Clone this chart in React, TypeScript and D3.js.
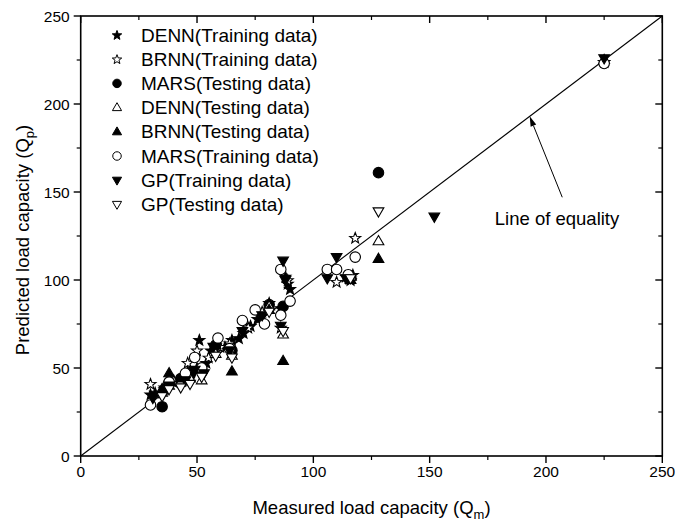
import React from "react";
import * as d3 from "d3";

// ---- data (measured, predicted) ----
const dennTraining: [number, number][] = [
  [30, 35], [32, 36], [36, 38], [40, 42], [44, 45], [46, 48], [50, 50], [51, 66], [54, 53],
  [56, 60], [58, 63], [62, 62], [65, 66], [68, 67], [70, 70], [73, 74], [76, 78], [78, 80],
  [81, 87], [86, 84], [88, 102], [89, 98], [90, 95], [114, 102], [116, 100], [117, 103], [225, 224],
];
const brnnTraining: [number, number][] = [
  [30, 41], [36, 39], [40, 43], [46, 53], [50, 60], [55, 56], [60, 62], [64, 64], [72, 73],
  [78, 82], [86, 73], [89, 100], [110, 99], [116, 101], [118, 124], [225, 224],
];
const marsTesting: [number, number][] = [
  [35, 28], [38, 42], [43, 44], [47, 46], [52, 50], [58, 63], [65, 60], [81, 86], [87, 85],
  [116, 101], [128, 161],
];
const dennTesting: [number, number][] = [
  [35, 36], [38, 40], [43, 42], [47, 44], [52, 43], [58, 58], [65, 57], [81, 85], [87, 69],
  [116, 102], [128, 122], [225, 225],
];
const brnnTesting: [number, number][] = [
  [35, 38], [38, 47], [43, 44], [47, 48], [52, 49], [58, 63], [65, 48], [81, 83], [87, 54],
  [116, 100], [128, 112],
];
const marsTraining: [number, number][] = [
  [30, 29], [38, 42], [45, 47], [49, 56], [52, 50], [59, 67], [64, 61], [69.5, 77], [75, 83],
  [79, 75], [86, 80], [86, 106], [90, 88], [106, 106], [110, 106], [115, 103], [118, 113], [225, 223],
];
const gpTraining: [number, number][] = [
  [31, 33], [38, 40], [45, 43], [49, 49], [53, 47], [57, 62], [64, 60], [69.5, 71], [78, 80],
  [86, 74], [87, 111], [88, 100], [106, 101], [110, 113], [114, 101], [152, 136], [225, 226],
];
const gpTesting: [number, number][] = [
  [35, 34], [38, 38], [43, 39], [47, 41], [52, 45], [58, 57], [65, 56], [81, 82], [87, 71],
  [116, 101], [128, 139],
];

const seriesNames = [
  "DENN(Training data)",
  "BRNN(Training data)",
  "MARS(Testing data)",
  "DENN(Testing data)",
  "BRNN(Testing data)",
  "MARS(Training data)",
  "GP(Training data)",
  "GP(Testing data)",
];
const seriesShapes = ["star", "star", "circle", "up", "up", "circle", "down", "down"];
const seriesFilled = [true, false, true, false, true, false, true, false];
const seriesData = [
  dennTraining, brnnTraining, marsTesting, dennTesting, brnnTesting, marsTraining, gpTraining, gpTesting,
];

const majorTicks = [0, 50, 100, 150, 200, 250];
const minorTicks = [25, 75, 125, 175, 225];
const equalityLine: [number, number][] = [[0, 0], [250, 250]];
const arrowFrom: [number, number] = [207, 147];
const arrowTo: [number, number] = [193, 193];
const annotationPos: [number, number] = [178, 131];

const W = 675;
const H = 522;
const L = 80.7, R = 662.3, T = 16, B = 456;

function markerPath(shape: string, s: number): string {
  if (shape === "circle") {
    return d3.arc()({ innerRadius: 0, outerRadius: s / 2, startAngle: 0, endAngle: Math.PI * 2 }) as string;
  }
  if (shape === "star") {
    const ro = s * 0.55, ri = ro * 0.42;
    const pts: [number, number][] = [];
    for (let i = 0; i < 10; i++) {
      const a = -Math.PI / 2 + (i * Math.PI) / 5;
      const r = i % 2 === 0 ? ro : ri;
      pts.push([r * Math.cos(a), r * Math.sin(a) + ro * 0.08]);
    }
    return d3.line()(pts)! + "Z";
  }
  const h = s * 0.88, w = s * 1.02;
  if (shape === "up") {
    return d3.line()([[0, -h * 0.62], [w / 2, h * 0.38], [-w / 2, h * 0.38]])! + "Z";
  }
  return d3.line()([[0, h * 0.62], [w / 2, -h * 0.38], [-w / 2, -h * 0.38]])! + "Z";
}

export default function App() {
  const x = d3.scaleLinear().domain([0, 250]).range([L, R]);
  const y = d3.scaleLinear().domain([0, 250]).range([B, T]);
  const font = "'Liberation Sans', Arial, sans-serif";
  const lineGen = d3.line<[number, number]>().x((d) => x(d[0])).y((d) => y(d[1]));

  // arrow geometry
  const ax1 = x(arrowFrom[0]), ay1 = y(arrowFrom[1]);
  const ax2 = x(arrowTo[0]), ay2 = y(arrowTo[1]);
  const ang = Math.atan2(ay2 - ay1, ax2 - ax1);
  const headLen = 10, headW = 3;
  const hx = ax2 - headLen * Math.cos(ang), hy = ay2 - headLen * Math.sin(ang);
  const head = [
    [ax2, ay2],
    [hx + headW * Math.sin(ang), hy - headW * Math.cos(ang)],
    [hx - headW * Math.sin(ang), hy + headW * Math.cos(ang)],
  ] as [number, number][];

  const sizeFor = (shape: string, legend: boolean) =>
    legend ? (shape === "circle" ? 8.5 : 9) : shape === "circle" ? 10.5 : 10.5;

  return (
    <div style={{ position: "absolute", left: 0, top: 0 }}>
      <svg width={W} height={H} style={{ display: "block", background: "#fff" }}>
        <rect x={0} y={0} width={W} height={H} fill="#fff" />
        {/* equality line */}
        <path d={lineGen(equalityLine)!} stroke="#000" strokeWidth={1.1} fill="none" />
        {/* data */}
        {seriesData.map((data, si) => (
          <g key={si}>
            {data.map((d, i) => (
              <path
                key={i}
                d={markerPath(seriesShapes[si], sizeFor(seriesShapes[si], false))}
                transform={`translate(${x(d[0])},${y(d[1])})`}
                fill={seriesFilled[si] ? "#000" : "#fff"}
                stroke="#000"
                strokeWidth={1.1}
              />
            ))}
          </g>
        ))}
        {/* frame */}
        <rect x={L} y={T} width={R - L} height={B - T} fill="none" stroke="#000" strokeWidth={1.6} />
        {/* ticks */}
        {majorTicks.map((t) => (
          <g key={"M" + t}>
            <line x1={x(t)} x2={x(t)} y1={B} y2={B + 7} stroke="#000" strokeWidth={1.4} />
            <line x1={x(t)} x2={x(t)} y1={T} y2={T + 7} stroke="#000" strokeWidth={1.4} />
            <line x1={L} x2={L - 7} y1={y(t)} y2={y(t)} stroke="#000" strokeWidth={1.4} />
            <line x1={R} x2={R - 7} y1={y(t)} y2={y(t)} stroke="#000" strokeWidth={1.4} />
            <text x={x(t)} y={B + 21} textAnchor="middle" fontFamily={font} fontSize={15.5}>{t}</text>
            <text x={L - 11} y={y(t) + 5.5} textAnchor="end" fontFamily={font} fontSize={15.5}>{t}</text>
          </g>
        ))}
        {minorTicks.map((t) => (
          <g key={"m" + t}>
            <line x1={x(t)} x2={x(t)} y1={B} y2={B + 4} stroke="#000" strokeWidth={1.2} />
            <line x1={x(t)} x2={x(t)} y1={T} y2={T + 4} stroke="#000" strokeWidth={1.2} />
            <line x1={L} x2={L - 4} y1={y(t)} y2={y(t)} stroke="#000" strokeWidth={1.2} />
            <line x1={R} x2={R - 4} y1={y(t)} y2={y(t)} stroke="#000" strokeWidth={1.2} />
          </g>
        ))}
        {/* axis titles */}
        <text x={(L + R) / 2} y={514} textAnchor="middle" fontFamily={font} fontSize={18.5}>
          Measured load capacity (Q<tspan fontSize={13} dy={5}>m</tspan><tspan dy={-5}>)</tspan>
        </text>
        <text transform={`translate(29,${(T + B) / 2 + 4}) rotate(-90)`} textAnchor="middle" fontFamily={font} fontSize={18.5}>
          Predicted load capacity (Q<tspan fontSize={13} dy={5}>p</tspan><tspan dy={-5}>)</tspan>
        </text>
        {/* legend */}
        {seriesNames.map((n, i) => {
          const ly = 35 + i * 24.2;
          return (
            <g key={n}>
              <path
                d={markerPath(seriesShapes[i], sizeFor(seriesShapes[i], true))}
                transform={`translate(117,${ly})`}
                fill={seriesFilled[i] ? "#000" : "#fff"}
                stroke="#000"
                strokeWidth={1}
              />
              <text x={141} y={ly + 6.5} fontFamily={font} fontSize={19}>{n}</text>
            </g>
          );
        })}
        {/* annotation */}
        <line x1={ax1} y1={ay1} x2={hx} y2={hy} stroke="#000" strokeWidth={1} />
        <path d={d3.line()(head)! + "Z"} fill="#000" />
        <text x={x(annotationPos[0])} y={y(annotationPos[1])} fontFamily={font} fontSize={18.5}>Line of equality</text>
      </svg>
    </div>
  );
}
